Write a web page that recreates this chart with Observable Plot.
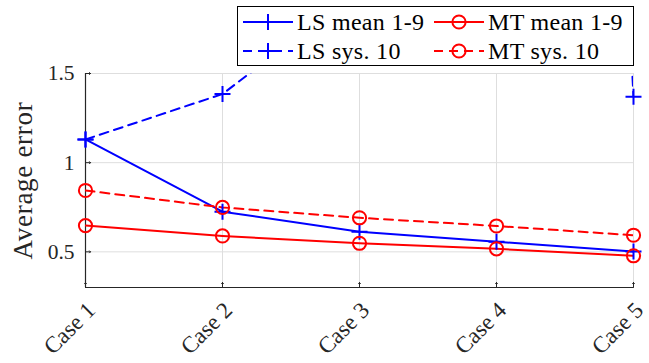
<!DOCTYPE html>
<html>
<head>
<meta charset="utf-8">
<script src="https://cdn.jsdelivr.net/npm/d3@7"></script>
<script src="https://cdn.jsdelivr.net/npm/@observablehq/plot@0.6"></script>
<style>
  html, body { margin: 0; padding: 0; background: #fff; }
  #wrap { position: relative; width: 649px; height: 363px; overflow: hidden; }
  #legend { position: absolute; left: 0; top: 0; }
  text { font-family: "Liberation Serif", serif; }
</style>
</head>
<body>
<div id="wrap"></div>
<script>
// ---- data ----
const cases = ["Case 1", "Case 2", "Case 3", "Case 4", "Case 5"];
const lsMean = [1.13, 0.725, 0.613, 0.557, 0.502];
const mtMean = [0.647, 0.589, 0.548, 0.517, 0.478];
const lsSys  = [1.13, 1.385, 1.97, 16, 1.370];
const mtSys  = [0.844, 0.749, 0.691, 0.645, 0.593];
const yTicks = [0.5, 1, 1.5];
const yDomain = [0.3, 1.5];
const seriesNames = ["LS mean 1-9", "MT mean 1-9", "LS sys. 10", "MT sys. 10"];

const BLUE = "#0000ff", RED = "#ff0000", AX = "#262626", GRID = "#dedede";
const FONT = '"Liberation Serif", serif';

const toRows = (vals, name) => cases.map((c, i) => ({case: c, v: vals[i], series: name}));
const sLSm = toRows(lsMean, seriesNames[0]);
const sMTm = toRows(mtMean, seriesNames[1]);
const sLSs = toRows(lsSys, seriesNames[2]);
const sMTs = toRows(mtSys, seriesNames[3]);

const cross = {
  draw(ctx, size) {
    const h = Math.sqrt(size / Math.PI);
    ctx.moveTo(-h, 0); ctx.lineTo(h, 0);
    ctx.moveTo(0, -h); ctx.lineTo(0, h);
  }
};
const inRange = d => d.v >= yDomain[0] && d.v <= yDomain[1];

const lineOpts = (stroke, dash) => ({x: "case", y: "v", stroke, strokeWidth: 2, clip: true,
  strokeDasharray: dash, strokeLinejoin: "round"});
const plusDots = (data) => Plot.dot(data, {x: "case", y: "v", filter: inRange, symbol: cross, r: 8,
  stroke: BLUE, strokeWidth: 2, fill: "none"});
const circDots = (data) => Plot.dot(data, {x: "case", y: "v", filter: inRange, symbol: "circle", r: 6.6,
  stroke: RED, strokeWidth: 2, fill: "none"});

const chart = Plot.plot({
  width: 649,
  height: 363,
  marginLeft: 85,
  marginRight: 16,
  marginTop: 73,
  marginBottom: 76,
  style: {fontFamily: FONT, background: "transparent", color: AX, overflow: "visible"},
  x: {type: "point", domain: cases, padding: 0},
  y: {domain: yDomain},
  marks: [
    Plot.gridX({stroke: GRID, strokeOpacity: 1, strokeWidth: 1}),
    Plot.gridY(yTicks, {stroke: GRID, strokeOpacity: 1, strokeWidth: 1}),
    Plot.ruleY([yDomain[0]], {stroke: AX, strokeWidth: 1.2}),
    Plot.ruleX([cases[0]], {stroke: AX, strokeWidth: 1.2}),
    Plot.vector(cases, {x: d => d, frameAnchor: "bottom", length: 5, anchor: "start", rotate: 0, stroke: AX, strokeWidth: 1}),
    Plot.vector(yTicks, {y: d => d, frameAnchor: "left", length: 5, anchor: "start", rotate: 90, stroke: AX, strokeWidth: 1}),
    Plot.axisY({ticks: yTicks, tickSize: 0, tickPadding: 11, tickFormat: d => String(d), fontSize: 21.5, label: null, fill: AX}),
    Plot.axisX({tickSize: 0, tickPadding: 10, tickRotate: -45, fontSize: 23, dx: 6, dy: 9, label: null, fill: AX}),
    Plot.text(["Average error"], {frameAnchor: "left", textAnchor: "middle", dx: -62, rotate: -90, fontSize: 27, fill: AX, text: d => d}),
    // data
    Plot.line(sLSm, lineOpts(BLUE)),
    Plot.line(sMTm, lineOpts(RED)),
    Plot.line(sLSs, lineOpts(BLUE, "9,6")),
    Plot.line(sMTs, lineOpts(RED, "9,6")),
    plusDots(sLSm),
    circDots(sMTm),
    plusDots(sLSs),
    circDots(sMTs)
  ]
});

const wrap = document.getElementById("wrap");
wrap.appendChild(chart);
// letter spacing for y label
d3.select(chart).selectAll("text").filter(function() { return this.textContent === "Average error"; })
  .style("letter-spacing", "0.7px");

// ---- legend overlay ----
const legendSpec = [
  {name: seriesNames[0], color: BLUE, dash: null, marker: "plus", col: 0, row: 0},
  {name: seriesNames[1], color: RED, dash: null, marker: "circle", col: 1, row: 0},
  {name: seriesNames[2], color: BLUE, dash: "9,6", marker: "plus", col: 0, row: 1},
  {name: seriesNames[3], color: RED, dash: "9,6", marker: "circle", col: 1, row: 1}
];
const L = d3.select(wrap).append("svg").attr("id", "legend").attr("width", 649).attr("height", 70);
L.append("rect").attr("x", 237.5).attr("y", 6.5).attr("width", 396).attr("height", 59)
  .attr("fill", "#fff").attr("stroke", "#000").attr("stroke-width", 1);
const colX = [243, 434];
const rowY = [22, 51];
for (const s of legendSpec) {
  const x0 = colX[s.col], y0 = rowY[s.row];
  const g = L.append("g");
  g.append("line").attr("x1", x0).attr("x2", x0 + 50).attr("y1", y0).attr("y2", y0)
    .attr("stroke", s.color).attr("stroke-width", 2).attr("stroke-dasharray", s.dash);
  if (s.marker === "plus") {
    g.append("path").attr("d", `M${x0 + 25 - 8},${y0}H${x0 + 25 + 8}M${x0 + 25},${y0 - 8}V${y0 + 8}`)
      .attr("stroke", s.color).attr("stroke-width", 2).attr("fill", "none");
  } else {
    g.append("circle").attr("cx", x0 + 25).attr("cy", y0).attr("r", 6.6)
      .attr("stroke", s.color).attr("stroke-width", 2).attr("fill", "none");
  }
  g.append("text").attr("x", x0 + 54).attr("y", y0 + 7.5).attr("font-size", 24)
    .attr("fill", "#000").style("font-family", FONT).style("letter-spacing", "0.3px").text(s.name);
}
</script>
</body>
</html>
